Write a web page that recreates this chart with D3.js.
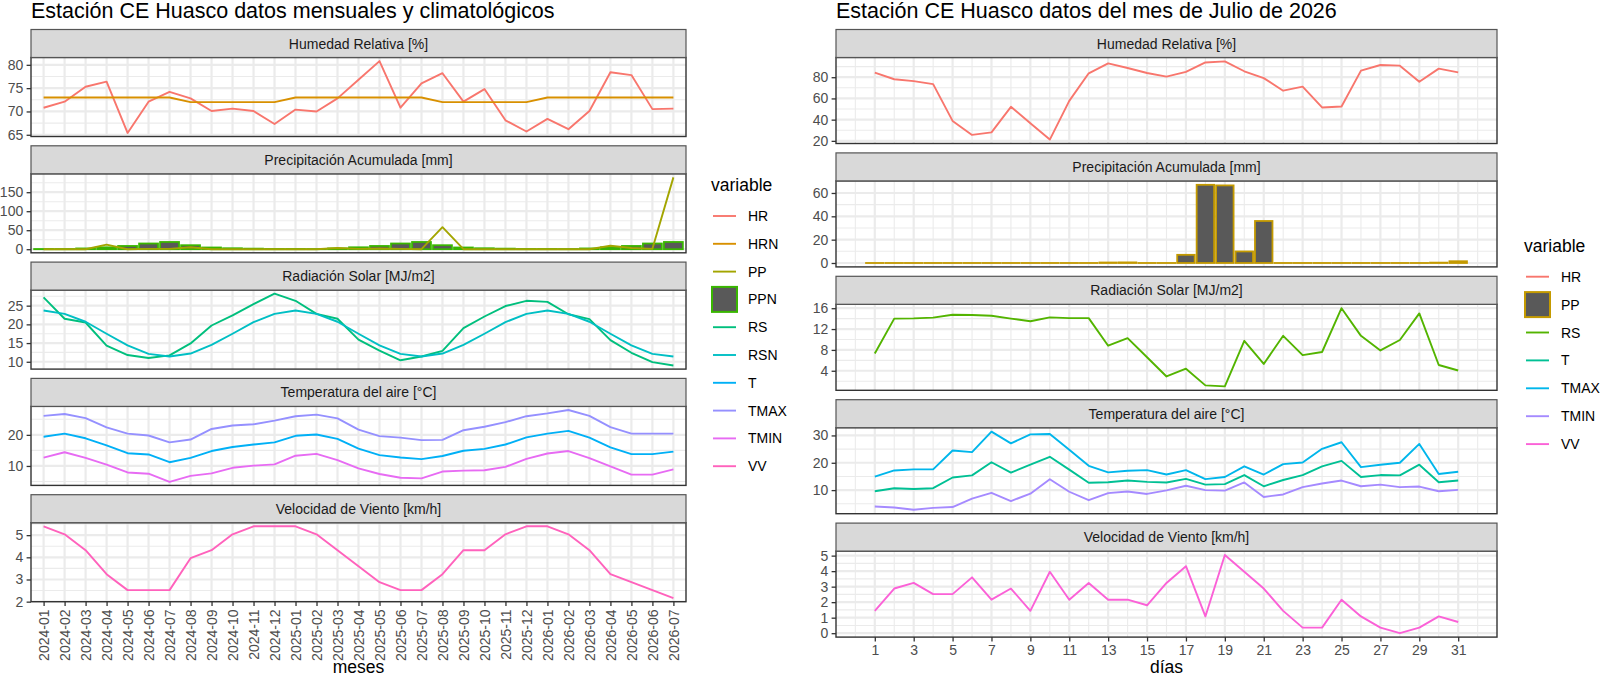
<!DOCTYPE html>
<html>
<head>
<meta charset="utf-8">
<script src="https://cdnjs.cloudflare.com/ajax/libs/d3/7.8.5/d3.min.js"></script>
<style>
  body { margin: 0; background: #fff; }
  svg { display: block; font-family: 'Liberation Sans', Arial, sans-serif; }
</style>
</head>
<body>
<svg id="chart" width="1600" height="677"></svg>
<script>
// ---- datos mensuales (panel izquierdo) ----
const meses = ['2024-01','2024-02','2024-03','2024-04','2024-05','2024-06','2024-07','2024-08','2024-09','2024-10','2024-11','2024-12',
  '2025-01','2025-02','2025-03','2025-04','2025-05','2025-06','2025-07','2025-08','2025-09','2025-10','2025-11','2025-12',
  '2026-01','2026-02','2026-03','2026-04','2026-05','2026-06','2026-07'];
const hrMes = [70.8,72.1,75.3,76.4,65.4,72.1,74.2,72.8,70.1,70.6,70.1,67.3,70.4,70.0,72.8,76.8,80.8,70.8,76.0,78.2,72.1,74.8,68.1,65.7,68.4,66.2,70.1,78.4,77.8,70.5,70.6];
const hrnMes = [73,73,73,73,73,73,73,72,72,72,72,72,73,73,73,73,73,73,73,72,72,72,72,72,73,73,73,73,73,73,73];
const ppMes = [0,0,0,12,0,1,1,5,0,0,0,0,0,0,3,1,2,1,0,58,0,0,0,0,0,0,0,9,3,1,189];
const ppnMes = [0.5,0.3,2,5,8.5,15,19,10.5,4.5,2.5,1.5,0.5,0.5,0.3,2,5,8.5,15,19,10.5,4.5,2.5,1.5,0.5,0.5,0.3,2,5,8.5,15,19];
const rsMes = [27.2,21.5,20.5,14.3,11.8,11.0,11.7,14.9,19.7,22.4,25.4,28.2,26.3,22.8,21.5,15.9,13.0,10.4,11.4,12.9,19.0,22.1,24.9,26.3,26.0,22.7,21.4,15.8,12.4,9.9,9.0];
const rsnMes = [23.7,22.8,20.7,17.5,14.4,12.1,11.4,12.2,14.5,17.5,20.6,22.8,23.7,22.8,20.7,17.5,14.4,12.1,11.4,12.2,14.5,17.5,20.6,22.8,23.7,22.8,20.7,17.5,14.4,12.1,11.4];
const tMes = [19.4,20.4,18.9,16.6,14.1,13.7,11.2,12.6,14.8,16.1,16.9,17.6,19.7,20.1,18.7,15.6,13.5,12.7,12.2,13.2,14.9,15.5,16.9,19.2,20.4,21.3,19.1,16.0,13.8,13.8,14.6];
const tmaxMes = [26.1,26.7,25.4,22.4,20.4,19.8,17.6,18.5,21.9,23.0,23.4,24.6,26.0,26.5,25.3,21.7,19.6,19.1,18.3,18.4,21.5,22.6,24.1,26.0,26.9,28.0,26.1,22.5,20.4,20.4,20.4];
const tminMes = [12.7,14.4,12.6,10.4,7.9,7.5,4.9,6.8,7.6,9.4,10.1,10.5,13.3,13.9,11.9,9.2,7.4,6.2,6.0,8.2,8.5,8.6,9.7,12.3,14.0,14.8,12.5,9.9,7.2,7.2,8.9];
const vvMes = [5.4,5.04,4.32,3.24,2.52,2.52,2.52,3.96,4.32,5.04,5.4,5.4,5.4,5.04,4.32,3.6,2.88,2.52,2.52,3.24,4.32,4.32,5.04,5.4,5.4,5.04,4.32,3.24,2.88,2.52,2.16];

// ---- datos diarios julio 2026 (panel derecho) ----
const dias = [1,2,3,4,5,6,7,8,9,10,11,12,13,14,15,16,17,18,19,20,21,22,23,24,25,26,27,28,29,30,31];
const diasTicks = [1,3,5,7,9,11,13,15,17,19,21,23,25,27,29,31];
const hrDia = [84.3,78.1,76.3,73.5,38.8,25.6,28.0,52.1,36.7,21.2,57.7,83.7,93.0,88.7,84.0,80.6,85.0,93.9,94.9,85.6,79.1,67.3,71.1,51.5,52.4,86.2,91.5,90.9,75.7,88.1,84.6];
const ppDia = [0,0,0,0,0,0,0,0,0,0,0,0,0.4,0.5,0,0,7,67,66.5,9.9,36,0,0,0,0,0,0,0,0,0.3,1.5];
const rsDia = [7.3,14.0,14.05,14.2,14.75,14.7,14.55,14.0,13.5,14.25,14.1,14.1,8.8,10.25,6.6,2.9,4.4,1.2,1.0,9.75,5.3,10.7,7.0,7.6,16.0,10.7,7.9,9.9,15.0,5.1,4.05];
const tDia = [9.6,10.7,10.4,10.7,14.6,15.4,20.2,16.4,19.3,22.2,17.5,12.7,12.9,13.5,13.0,12.8,14.1,12.0,12.2,15.5,11.4,13.7,15.5,18.7,20.7,14.8,15.5,15.4,19.3,12.9,13.5];
const tmaxDia = [14.9,17.2,17.6,17.6,24.5,23.9,31.4,27.1,30.4,30.5,24.8,18.9,16.5,17.1,17.3,15.7,17.3,14.0,14.8,18.7,15.7,19.5,20.1,25.1,27.5,18.4,19.3,20.0,26.9,15.9,16.7];
const tminDia = [4.0,3.65,2.8,3.5,3.8,6.9,9.0,6.0,8.7,14.0,9.4,6.3,8.9,9.5,8.6,9.9,11.6,10.0,9.8,12.8,7.5,8.4,11.1,12.4,13.5,11.4,12.0,11.1,11.3,9.6,10.1];
const vvDia = [1.44,2.88,3.24,2.52,2.52,3.6,2.16,2.88,1.44,3.96,2.16,3.24,2.16,2.16,1.8,3.24,4.32,1.08,5.04,3.96,2.88,1.44,0.36,0.36,2.16,1.08,0.36,0,0.36,1.08,0.72];

// ---- facetas y ticks ----
const facetTitles = ['Humedad Relativa [%]','Precipitación Acumulada [mm]','Radiación Solar [MJ/m2]','Temperatura del aire [°C]','Velocidad de Viento [km/h]'];
const ticksMes = [[65,70,75,80],[0,50,100,150],[10,15,20,25],[10,20],[2,3,4,5]];
const ticksDia = [[20,40,60,80],[0,20,40,60],[4,8,12,16],[10,20,30],[0,1,2,3,4,5]];

const legendMes = ['HR','HRN','PP','PPN','RS','RSN','T','TMAX','TMIN','VV'];
const legendDia = ['HR','PP','RS','T','TMAX','TMIN','VV'];

// ggplot hue palette
const colMes = {HR:'#F8766D', HRN:'#D89000', PP:'#A3A500', PPN:'#39B600', RS:'#00BF7D', RSN:'#00BFC4', T:'#00B0F6', TMAX:'#9590FF', TMIN:'#E76BF3', VV:'#FF62BC'};
const colDia = {HR:'#F8766D', PP:'#C49A00', RS:'#53B400', T:'#00C094', TMAX:'#00B6EB', TMIN:'#A58AFF', VV:'#FB61D7'};

const svg = d3.select('#chart');

// helpers
function padExtent(vals, mult = 0.05) {
  const [lo, hi] = d3.extent(vals);
  const r = hi - lo;
  return [lo - r * mult, hi + r * mult];
}

function minorBreaks(major, domain) {
  const step = major[1] - major[0];
  const out = [];
  for (let v = major[0] - step / 2; v <= domain[1]; v += step) {
    if (v >= domain[0]) out.push(v);
  }
  return out;
}

function styleAxis($a) {
  $a.select('.domain').remove();
  $a.selectAll('.tick line').attr('stroke', '#333').attr('stroke-width', 1.3);
  $a.selectAll('.tick text').attr('fill', '#4D4D4D').attr('font-size', 14)
    .attr('font-family', "'Liberation Sans', Arial, sans-serif");
}

function drawPlot(cfg) {
  const $plot = svg.append('g').attr('class', 'plot');

  $plot.append('text')
    .attr('x', cfg.x0).attr('y', 17.5)
    .attr('font-size', 21.5).attr('fill', '#000')
    .text(cfg.title);

  const step = cfg.stripH + cfg.panelH + cfg.gap;
  let lastBottom = 0;

  cfg.facets.forEach((f, i) => {
    const sTop = cfg.top + i * step;
    const pTop = sTop + cfg.stripH;
    const pBot = pTop + cfg.panelH;
    lastBottom = pBot;

    let vals = [];
    f.lines.forEach(k => { vals = vals.concat(cfg.series[k]); });
    if (f.bar) vals = vals.concat(cfg.series[f.bar], [0]);
    const dom = padExtent(vals);
    const y = d3.scaleLinear().domain(dom).range([pBot, pTop]);

    const $f = $plot.append('g').attr('class', 'facet');

    $f.append('rect')
      .attr('x', cfg.x0).attr('y', pTop)
      .attr('width', cfg.x1 - cfg.x0).attr('height', cfg.panelH)
      .attr('fill', '#fff');

    // grid
    $f.selectAll('.hmin').data(minorBreaks(f.ticks, dom)).join('line')
      .attr('x1', cfg.x0).attr('x2', cfg.x1)
      .attr('y1', d => y(d)).attr('y2', d => y(d))
      .attr('stroke', '#EBEBEB').attr('stroke-width', 1.1);
    $f.selectAll('.vmin').data(cfg.xMinor).join('line')
      .attr('x1', d => cfg.xPos(d)).attr('x2', d => cfg.xPos(d))
      .attr('y1', pTop).attr('y2', pBot)
      .attr('stroke', '#EBEBEB').attr('stroke-width', 1.1);
    $f.selectAll('.hmaj').data(f.ticks).join('line')
      .attr('x1', cfg.x0).attr('x2', cfg.x1)
      .attr('y1', d => y(d)).attr('y2', d => y(d))
      .attr('stroke', '#EBEBEB').attr('stroke-width', 2.2);
    $f.selectAll('.vmaj').data(cfg.xMajor).join('line')
      .attr('x1', d => cfg.xPos(d)).attr('x2', d => cfg.xPos(d))
      .attr('y1', pTop).attr('y2', pBot)
      .attr('stroke', '#EBEBEB').attr('stroke-width', 2.2);

    // bars (zero values still show their outline, like geom_col)
    if (f.bar) {
      $f.selectAll('.bar').data(cfg.series[f.bar]).join('rect')
        .attr('x', (d, j) => cfg.xPos(cfg.cats[j]) - cfg.barW / 2)
        .attr('y', d => y(d))
        .attr('width', cfg.barW)
        .attr('height', d => Math.max(y(0) - y(d), 0.01))
        .attr('fill', '#595959')
        .attr('stroke', cfg.colors[f.bar]).attr('stroke-width', 1.8);
    }

    // lines
    const line = d3.line()
      .x((d, j) => cfg.xPos(cfg.cats[j]))
      .y(d => y(d));
    f.lines.forEach(k => {
      $f.append('path').datum(cfg.series[k])
        .attr('d', line)
        .attr('fill', 'none')
        .attr('stroke', cfg.colors[k]).attr('stroke-width', 1.9)
        .attr('stroke-linejoin', 'round');
    });

    // border
    $f.append('rect')
      .attr('x', cfg.x0).attr('y', pTop)
      .attr('width', cfg.x1 - cfg.x0).attr('height', cfg.panelH)
      .attr('fill', 'none').attr('stroke', '#333').attr('stroke-width', 1.4);

    // strip
    $f.append('rect')
      .attr('x', cfg.x0).attr('y', sTop)
      .attr('width', cfg.x1 - cfg.x0).attr('height', cfg.stripH)
      .attr('fill', '#D9D9D9').attr('stroke', '#555').attr('stroke-width', 1.2);
    $f.append('text')
      .attr('x', (cfg.x0 + cfg.x1) / 2).attr('y', sTop + cfg.stripH / 2)
      .attr('dy', '0.36em').attr('text-anchor', 'middle')
      .attr('font-size', 14).attr('fill', '#1A1A1A')
      .text(f.title);

    // y axis
    const $ya = $f.append('g')
      .attr('transform', `translate(${cfg.x0},0)`)
      .call(d3.axisLeft(y).tickValues(f.ticks).tickFormat(d3.format('~g'))
        .tickSize(4.4).tickPadding(3.4));
    styleAxis($ya);
  });

  // x axis (solo en la faceta inferior)
  const $xa = $plot.append('g')
    .attr('transform', `translate(0,${lastBottom})`)
    .call(cfg.xAxis);
  styleAxis($xa);
  if (cfg.rotate) {
    $xa.selectAll('.tick text')
      .attr('transform', 'rotate(-90)')
      .attr('text-anchor', 'end')
      .attr('x', -7.8).attr('y', 0).attr('dy', '0.36em');
  }

  $plot.append('text')
    .attr('x', (cfg.x0 + cfg.x1) / 2).attr('y', 673)
    .attr('text-anchor', 'middle')
    .attr('font-size', 17.5).attr('fill', '#000')
    .text(cfg.xTitle);
}

function drawLegend(keys, colors, bars, lx, titleY, firstY, stepY) {
  const $l = svg.append('g').attr('class', 'legend');
  $l.append('text')
    .attr('x', lx).attr('y', titleY)
    .attr('font-size', 17.5).attr('fill', '#000')
    .text('variable');
  keys.forEach((k, i) => {
    const cy = firstY + i * stepY;
    if (bars.includes(k)) {
      $l.append('rect')
        .attr('x', lx + 1).attr('y', cy - 12.5)
        .attr('width', 25).attr('height', 25)
        .attr('fill', '#595959').attr('stroke', colors[k]).attr('stroke-width', 2);
    } else {
      $l.append('line')
        .attr('x1', lx + 2).attr('x2', lx + 25)
        .attr('y1', cy).attr('y2', cy)
        .attr('stroke', colors[k]).attr('stroke-width', 1.9);
    }
    $l.append('text')
      .attr('x', lx + 37).attr('y', cy).attr('dy', '0.36em')
      .attr('font-size', 14).attr('fill', '#000')
      .text(k);
  });
}

// ---- panel izquierdo: mensual ----
const xMes = d3.scalePoint().domain(meses).range([31, 686]).padding(0.6);
drawPlot({
  title: 'Estación CE Huasco datos mensuales y climatológicos',
  x0: 31, x1: 686, top: 29.5, stripH: 28, panelH: 79, gap: 9.3,
  cats: meses,
  xPos: d => xMes(d),
  xMajor: meses, xMinor: [],
  barW: xMes.step() * 0.9,
  xAxis: d3.axisBottom(xMes).tickSize(4.4).tickPadding(3.4),
  rotate: true,
  xTitle: 'meses',
  colors: colMes,
  series: {HR: hrMes, HRN: hrnMes, PP: ppMes, PPN: ppnMes, RS: rsMes, RSN: rsnMes, T: tMes, TMAX: tmaxMes, TMIN: tminMes, VV: vvMes},
  facets: [
    {title: facetTitles[0], lines: ['HR', 'HRN'], ticks: ticksMes[0]},
    {title: facetTitles[1], lines: ['PP'], bar: 'PPN', ticks: ticksMes[1]},
    {title: facetTitles[2], lines: ['RS', 'RSN'], ticks: ticksMes[2]},
    {title: facetTitles[3], lines: ['T', 'TMAX', 'TMIN'], ticks: ticksMes[3]},
    {title: facetTitles[4], lines: ['VV'], ticks: ticksMes[4]}
  ]
});
drawLegend(legendMes, colMes, ['PPN'], 711, 191, 216, 27.8);

// ---- panel derecho: diario ----
const xDia = d3.scaleLinear()
  .domain(padExtent([d3.min(dias) - 0.45, d3.max(dias) + 0.45]))
  .range([836, 1497]);
const diasMinor = minorBreaks(diasTicks, xDia.domain());
drawPlot({
  title: 'Estación CE Huasco datos del mes de Julio de 2026',
  x0: 836, x1: 1497, top: 29.5, stripH: 28, panelH: 86, gap: 9.4,
  cats: dias,
  xPos: d => xDia(d),
  xMajor: diasTicks, xMinor: diasMinor,
  barW: (xDia(1) - xDia(0)) * 0.9,
  xAxis: d3.axisBottom(xDia).tickValues(diasTicks).tickSize(4.4).tickPadding(3.4),
  rotate: false,
  xTitle: 'días',
  colors: colDia,
  series: {HR: hrDia, PP: ppDia, RS: rsDia, T: tDia, TMAX: tmaxDia, TMIN: tminDia, VV: vvDia},
  facets: [
    {title: facetTitles[0], lines: ['HR'], ticks: ticksDia[0]},
    {title: facetTitles[1], lines: [], bar: 'PP', ticks: ticksDia[1]},
    {title: facetTitles[2], lines: ['RS'], ticks: ticksDia[2]},
    {title: facetTitles[3], lines: ['T', 'TMAX', 'TMIN'], ticks: ticksDia[3]},
    {title: facetTitles[4], lines: ['VV'], ticks: ticksDia[4]}
  ]
});
drawLegend(legendDia, colDia, ['PP'], 1524, 252, 276.7, 27.9);
</script>
</body>
</html>
